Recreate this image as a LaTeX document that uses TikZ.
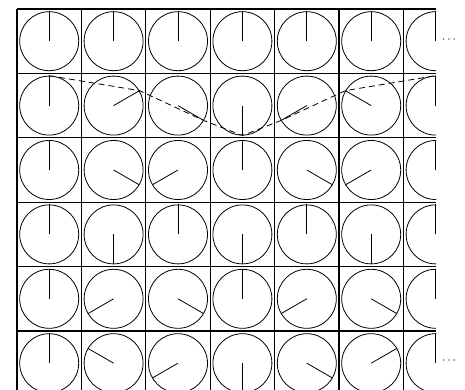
\documentclass[tikz,border=0pt]{standalone}
\begin{document}
\begin{tikzpicture}[
        x=1pt, y=1pt,
        cellline/.style={line width=1.2pt},
        dial/.style={
            draw,
            circle,
            line width=0.8pt,
            minimum size=59pt,
            inner sep=0pt
        },
        hand/.style={line width=0.8pt},
        wave/.style={line width=0.8pt, dash pattern=on 6pt off 4pt},
        more/.style={inner sep=0pt, font=\large}
    ]

    \useasboundingbox (0,0) rectangle (465,390);

    \begin{scope}
    \clip (10,0) rectangle (436,390);

    % cells
    \foreach \r in {0,...,6}
        \draw[cellline] (17,381-64.4*\r) -- (436,381-64.4*\r);
    \foreach \c in {0,...,6}
        \draw[cellline] (17+64.4*\c,381) -- (17+64.4*\c,-10);

    % dials: row r turns its hand by 60*r degrees per column
    \foreach \r in {0,...,5}
        \foreach \c in {0,...,6} {
            \node[dial] (d-\r-\c) at ({49.2+64.4*\c},{348.8-64.4*\r}) {};
            \pgfmathtruncatemacro\ang{mod(90-60*\r*\c+3600,360)}
            \draw[hand] (d-\r-\c.center) -- (d-\r-\c.\ang);
        }

    % wave through the hand tips of the second row
    \draw[wave] (d-1-0.90) -- (d-1-1.30) -- (d-1-2.330) -- (d-1-3.270)
        -- (d-1-4.210) -- (d-1-5.150) -- (d-1-6.90);
    \end{scope}

    \node[more] (more-top) at (449,350) {$\cdots$};
    \node[more] (more-bottom) at (449,29) {$\cdots$};

    \end{tikzpicture}
\end{document}
